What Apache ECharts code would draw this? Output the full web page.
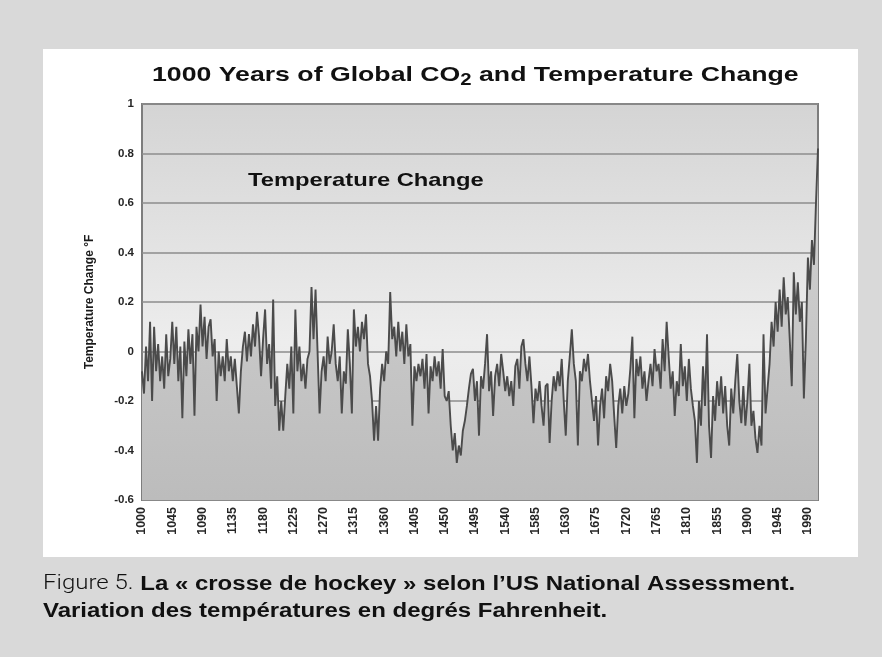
<!DOCTYPE html>
<html>
<head>
<meta charset="utf-8">
<script src="https://cdn.jsdelivr.net/npm/echarts@6/dist/echarts.min.js"></script>
<style>
  html, body { margin: 0; padding: 0; background: #d9d9d9; }
  .panel { position: absolute; left: 43px; top: 49px; width: 815px; height: 508px; background: #fff; }
  #chart { position: absolute; left: 0; top: 0; width: 882px; height: 657px; }
</style>
</head>
<body>
<div class="panel"></div>
<div id="chart"></div>
<script>
// readings every 3 years, 1000 -> 2005 (°F)
const startYear = 1000
const yearStep = 3
const labelEvery = 15 // one label per 45 years
const tempChange = [
  -0.08, -0.17, 0.02, -0.12, 0.12, -0.2, 0.1, -0.08, 0.03, -0.12, -0.02, -0.15, 0.07, -0.1, -0.03,
  0.12, -0.05, 0.1, -0.12, 0.02, -0.27, 0.04, -0.1, 0.09, -0.05, 0.07, -0.26, 0.1, 0.0, 0.19,
  0.02, 0.14, -0.03, 0.1, 0.13, -0.02, 0.05, -0.2, 0.0, -0.1, -0.02, -0.12, 0.05, -0.08, -0.02,
  -0.12, -0.03, -0.14, -0.25, -0.08, 0.02, 0.08, -0.04, 0.07, -0.02, 0.11, 0.02, 0.16, 0.06, -0.1,
  0.05, 0.17, -0.05, 0.03, -0.15, 0.21, -0.22, -0.1, -0.32, -0.2, -0.32, -0.18, -0.05, -0.15, 0.02,
  -0.25, 0.17, -0.08, 0.02, -0.12, -0.05, -0.15, -0.03, 0.0, 0.26, 0.05, 0.25, 0.0, -0.25, -0.08,
  -0.02, -0.12, 0.06, -0.05, 0.0, 0.11, -0.05, -0.12, -0.02, -0.25, -0.08, -0.13, 0.09, -0.05, -0.25,
  0.17, 0.02, 0.1, 0.0, 0.12, 0.05, 0.15, -0.05, -0.1, -0.2, -0.36, -0.22, -0.36, -0.15, -0.05,
  -0.12, 0.0, -0.05, 0.24, 0.05, 0.1, -0.02, 0.12, 0.0, 0.08, -0.05, 0.11, -0.02, 0.03, -0.3,
  -0.06, -0.12, -0.05, -0.1, -0.03, -0.15, -0.01, -0.25, -0.06, -0.12, -0.02, -0.1, -0.04, -0.15, 0.01,
  -0.18, -0.2, -0.16, -0.3, -0.4, -0.33, -0.45, -0.38, -0.42, -0.32, -0.28, -0.22, -0.15, -0.09, -0.07,
  -0.2, -0.12, -0.34, -0.1, -0.15, -0.05, 0.07, -0.16, -0.08, -0.26, -0.1, -0.05, -0.14, -0.01, -0.08,
  -0.16, -0.1, -0.18, -0.12, -0.22, -0.06, -0.03, -0.15, 0.02, 0.05, -0.05, -0.12, -0.02, -0.14, -0.29,
  -0.15, -0.2, -0.12, -0.22, -0.3, -0.14, -0.13, -0.37, -0.2, -0.1, -0.16, -0.08, -0.14, -0.03, -0.2,
  -0.34, -0.12, -0.02, 0.09, -0.05, -0.12, -0.38, -0.08, -0.12, -0.03, -0.08, -0.01, -0.12, -0.2, -0.28,
  -0.18, -0.38, -0.22, -0.15, -0.27, -0.1, -0.16, -0.05, -0.12, -0.26, -0.39, -0.22, -0.15, -0.25, -0.14,
  -0.22, -0.17, -0.07, 0.06, -0.27, -0.03, -0.1, -0.02, -0.15, -0.08, -0.2, -0.12, -0.05, -0.14, 0.01,
  -0.08, -0.05, -0.15, 0.05, -0.08, 0.12, -0.02, -0.15, -0.08, -0.26, -0.12, -0.18, 0.03, -0.14, -0.06,
  -0.2, -0.03, -0.15, -0.22, -0.28, -0.45, -0.2, -0.3, -0.06, -0.22, 0.07, -0.3, -0.43, -0.18, -0.28,
  -0.12, -0.22, -0.1, -0.25, -0.14, -0.3, -0.38, -0.15, -0.25, -0.12, -0.01, -0.2, -0.29, -0.14, -0.3,
  -0.2, -0.05, -0.3, -0.24, -0.35, -0.41, -0.3, -0.38, 0.07, -0.25, -0.15, -0.05, 0.12, 0.02, 0.2,
  0.08, 0.25, 0.1, 0.3, 0.15, 0.22, 0.05, -0.14, 0.32, 0.15, 0.28, 0.12, 0.2, -0.19, 0.05,
  0.38, 0.25, 0.45, 0.35, 0.6, 0.82
]
const years = tempChange.map((v, i) => String(startYear + i * yearStep))

const titleText = '1000 Years of Global CO{sub|2} and Temperature Change'
const seriesLabel = 'Temperature Change'
const yAxisName = 'Temperature Change °F'
const caption1 = '{lt|Figure 5.} La « crosse de hockey » selon l’US National Assessment.'
const caption2 = 'Variation des températures en degrés Fahrenheit.'

const font = 'Liberation Sans'
const chart = echarts.init(document.getElementById('chart'))

chart.setOption({
  animation: false,
  backgroundColor: 'transparent',
  grid: {
    left: 142,
    top: 104,
    right: 64,
    bottom: 157,
    show: true,
    borderColor: '#7d7d7d',
    borderWidth: 2,
    backgroundColor: {
      type: 'linear', x: 0, y: 0, x2: 0, y2: 1,
      colorStops: [
        { offset: 0, color: '#d4d4d4' },
        { offset: 0.6, color: '#ededed' },
        { offset: 1, color: '#e4e4e4' }
      ]
    }
  },
  xAxis: {
    type: 'category',
    data: years,
    boundaryGap: false,
    axisLine: { show: false },
    axisTick: { show: false },
    splitLine: { show: false },
    axisLabel: {
      interval: (i) => i % labelEvery === 0,
      rotate: 90,
      margin: 7,
      fontFamily: font,
      fontWeight: 'bold',
      fontSize: 12.5,
      color: '#262626'
    }
  },
  yAxis: {
    type: 'value',
    min: -0.6,
    max: 1,
    interval: 0.2,
    name: yAxisName,
    nameLocation: 'middle',
    nameGap: 46,
    nameTextStyle: { fontFamily: font, fontWeight: 'bold', fontSize: 12, color: '#1a1a1a' },
    axisLine: { show: false },
    axisTick: { show: false },
    axisLabel: { margin: 8, fontFamily: font, fontWeight: 'bold', fontSize: 11.5, color: '#262626' },
    splitLine: { lineStyle: { color: '#8c8c8c', width: 1.5 } }
  },
  series: [{
    name: seriesLabel,
    type: 'line',
    data: tempChange,
    symbol: 'none',
    silent: true,
    lineStyle: { color: '#4b4b4b', width: 1.9 },
    areaStyle: {
      origin: 'start',
      opacity: 1,
      color: new echarts.graphic.LinearGradient(0, 0, 0, 1, [
        { offset: 0, color: '#d4d4d4' },
        { offset: 1, color: '#bcbcbc' }
      ])
    }
  }],
  graphic: [
    {
      type: 'text', x: 152, y: 75, scaleX: 1.27,
      style: {
        text: titleText,
        fontFamily: font, fontWeight: 'bold', fontSize: 21, fill: '#111',
        verticalAlign: 'middle',
        rich: { sub: { fontFamily: font, fontWeight: 'bold', fontSize: 16, padding: [12, 0, 0, 0] } }
      }
    },
    {
      type: 'text', x: 248, y: 181, scaleX: 1.25, z: 100,
      style: { text: seriesLabel, fontFamily: font, fontWeight: 'bold', fontSize: 19, fill: '#111', verticalAlign: 'middle' }
    },
    {
      type: 'text', x: 43, y: 584, scaleX: 1.2,
      style: {
        text: caption1,
        fontFamily: font, fontWeight: 'bold', fontSize: 20, fill: '#111',
        verticalAlign: 'middle',
        rich: { lt: { fontFamily: 'Roboto', fontWeight: 300, fontSize: 20, fill: '#111' } }
      }
    },
    {
      type: 'text', x: 43, y: 611, scaleX: 1.2,
      style: { text: caption2, fontFamily: font, fontWeight: 'bold', fontSize: 20, fill: '#111', verticalAlign: 'middle' }
    }
  ]
})
</script>
</body>
</html>
